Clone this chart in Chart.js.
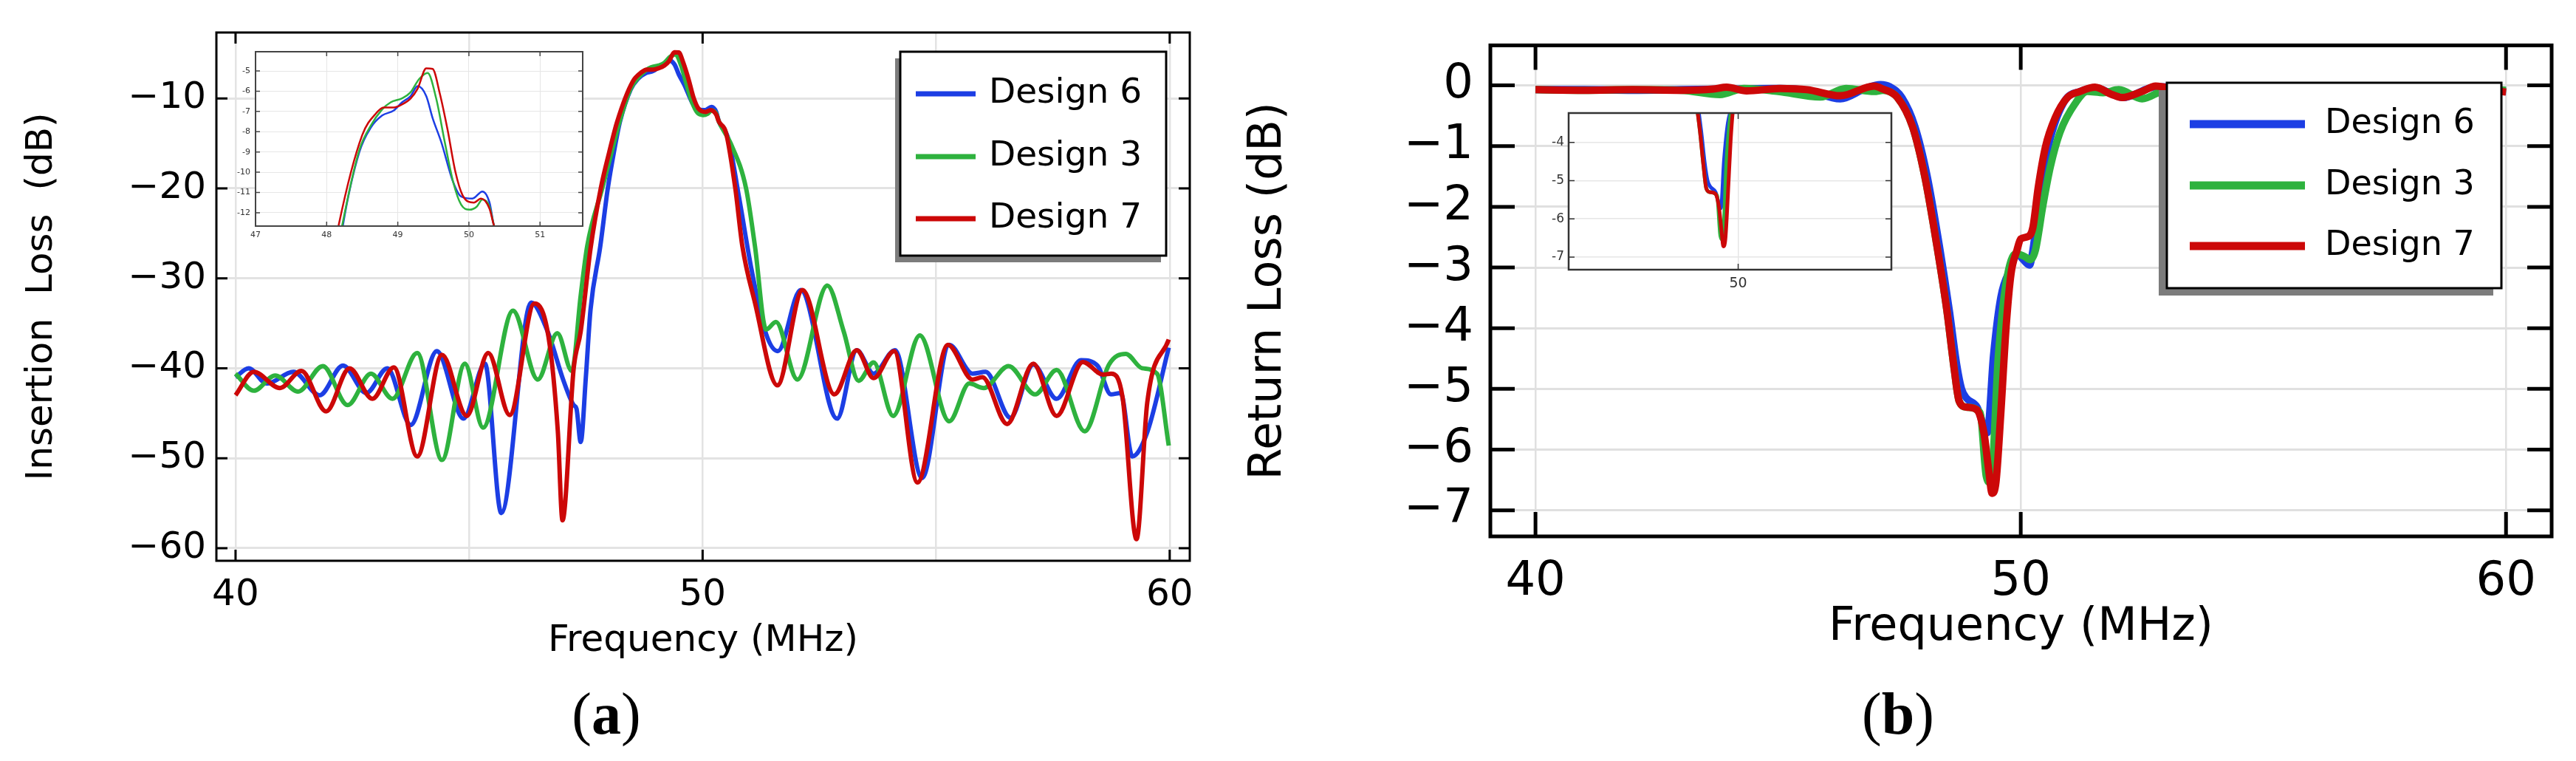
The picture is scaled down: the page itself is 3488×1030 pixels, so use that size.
<!DOCTYPE html>
<html>
<head>
<meta charset="utf-8">
<script src="https://cdn.jsdelivr.net/npm/chart.js@4.4.1/dist/chart.umd.min.js"></script>
<style>
  body { margin: 0; background: #fff; }
  #page { position: relative; width: 3488px; height: 1030px; background: #fff; overflow: hidden; }
  canvas { position: absolute; }
  .cap { position: absolute; font-family: 'Liberation Serif', serif; font-size: 80px; line-height: 1; transform: translate(-50%, -50%); color: #000; }
</style>
</head>
<body>
<div id="page">
  <canvas id="il" width="1700" height="930" style="left:0;top:0"></canvas>
  <canvas id="ilInset" width="500" height="290" style="left:300px;top:50px"></canvas>
  <canvas id="rl" width="1838" height="930" style="left:1650px;top:0"></canvas>
  <canvas id="rlInset" width="500" height="280" style="left:2080px;top:120px"></canvas>
  <div class="cap" style="left:821px;top:966px">(<b>a</b>)</div>
  <div class="cap" style="left:2570px;top:966px">(<b>b</b>)</div>
</div>
<script>
// colours of the three designs
const BLUE = 'rgb(28,62,228)';
const GREEN = 'rgb(46,178,62)';
const RED = 'rgb(204,8,8)';

const labels = ['Design 6', 'Design 3', 'Design 7'];

// ---- insertion loss
const ilFreq6 = [40.0, 40.28, 40.67, 41.24, 41.8, 42.3, 42.8, 43.25, 43.75, 44.31, 44.88, 45.34, 45.69, 46.33, 46.68, 47.03, 47.24, 47.3, 47.39, 47.5, 47.6, 47.81, 47.97, 48.1, 48.23, 48.46, 48.62, 48.78, 48.94, 49.06, 49.18, 49.28, 49.40, 49.49, 49.61, 49.78, 49.89, 50.05, 50.19, 50.29, 50.35, 50.55, 50.78, 51.05, 51.36, 51.61, 52.1, 52.88, 53.3, 53.66, 54.12, 54.7, 55.28, 55.78, 56.06, 56.59, 57.08, 57.58, 58.1, 58.46, 58.74, 58.95, 59.2, 59.52, 59.98];
const ilDesign6 = [-41, -40, -41.7, -40.4, -43, -39.7, -42.75, -40, -46.3, -38.1, -45.6, -39.5, -56.1, -32.7, -35.9, -41.5, -44.1, -44.5, -48.2, -41, -33.5, -26.4, -20, -16, -12.6, -9.0, -7.8, -7.2, -6.96, -6.55, -6.24, -5.75, -6.24, -7.33, -8.5, -10.5, -11.2, -11.3, -10.95, -11.5, -12.6, -14.5, -21, -29.1, -36.2, -38.1, -31.3, -45.6, -38, -40.6, -38, -52.2, -37.4, -40.6, -40.4, -45.5, -39.6, -43.4, -39.1, -39.75, -42.9, -42.75, -49.8, -47.1, -37.7];

const ilFreq3 = [40.0, 40.39, 40.85, 41.34, 41.87, 42.4, 42.9, 43.36, 43.89, 44.42, 44.91, 45.3, 45.94, 46.47, 46.89, 47.2, 47.39, 47.53, 47.85, 48.05, 48.22, 48.46, 48.62, 48.78, 48.9, 49.06, 49.18, 49.30, 49.42, 49.54, 49.66, 49.78, 49.89, 50.01, 50.11, 50.19, 50.29, 50.35, 50.6, 50.93, 51.12, 51.36, 51.57, 52.03, 52.67, 53.02, 53.34, 53.66, 54.08, 54.65, 55.28, 55.71, 56.02, 56.55, 57.12, 57.58, 58.18, 58.7, 59.06, 59.41, 59.73, 59.98];
const ilDesign3 = [-40.6, -42.5, -40.8, -42.6, -39.75, -44.1, -40.6, -43.4, -38.3, -50.2, -39.5, -46.6, -33.6, -41.25, -36.1, -40.3, -31.9, -26.4, -20, -16, -12.6, -8.9, -7.7, -6.9, -6.55, -6.35, -6.05, -5.4, -5.1, -6.36, -8.5, -10.5, -11.6, -11.85, -11.7, -11.35, -11.7, -12.6, -15, -20, -26.4, -35.7, -34.85, -41.25, -30.8, -35.9, -41.4, -39.35, -45.3, -36.35, -45.9, -41.7, -42.2, -39.75, -42.9, -40.2, -47.0, -39.6, -38.4, -40.0, -40.6, -48.6];

const ilFreq7 = [40.0, 40.39, 40.95, 41.41, 41.94, 42.44, 42.93, 43.39, 43.89, 44.42, 44.95, 45.41, 45.87, 46.4, 46.7, 46.9, 47.0, 47.24, 47.39, 47.6, 47.82, 48.0, 48.17, 48.5, 48.7, 48.8, 48.94, 49.06, 49.18, 49.28, 49.40, 49.49, 49.59, 49.70, 49.81, 49.91, 50.07, 50.17, 50.29, 50.35, 50.5, 50.7, 50.85, 51.12, 51.6, 52.14, 52.82, 53.3, 53.66, 54.1, 54.6, 55.25, 55.78, 55.99, 56.52, 57.08, 57.58, 58.14, 58.57, 58.75, 58.99, 59.29, 59.52, 59.98];
const ilDesign7 = [-43, -40.4, -42.2, -40.3, -44.8, -40, -43.4, -39.9, -49.8, -38.5, -45.3, -38.3, -45.2, -32.8, -36.5, -47, -56.9, -40, -35.9, -26.7, -20, -16, -12.6, -8.17, -7.07, -6.8, -6.8, -6.65, -6.36, -5.87, -4.87, -4.9, -6.1, -7.9, -9.98, -11.13, -11.5, -11.3, -11.8, -12.6, -13.8, -20, -26.4, -32.7, -41.9, -31.3, -42.9, -38, -41.1, -38.1, -52.7, -37.4, -41.25, -41, -46.2, -39.5, -45.3, -39.3, -40.7, -40.6, -43.2, -59, -43.8, -36.8];

// ---- return loss
const rlFreq6 = [40, 41, 42, 43, 44, 45, 45.6, 46.28, 46.8, 47.11, 47.3, 47.55, 47.82, 48.07, 48.32, 48.53, 48.68, 48.78, 48.88, 49.1, 49.31, 49.44, 49.59, 49.8, 49.92, 50.05, 50.18, 50.25, 50.41, 50.61, 50.91, 51.22, 51.55, 51.9, 52.1, 52.8, 54, 56, 58, 60];
const rlDesign6 = [-0.07, -0.07, -0.08, -0.07, -0.06, -0.05, -0.08, -0.22, -0.05, 0.015, -0.02, -0.2, -0.68, -1.49, -2.63, -3.72, -4.6, -5.0, -5.15, -5.3, -5.72, -4.44, -3.49, -3.0, -2.77, -2.87, -2.96, -2.72, -1.68, -0.87, -0.25, -0.1, -0.04, -0.15, -0.2, -0.02, -0.07, -0.07, -0.07, -0.1];

const rlFreq3 = [40, 41, 42, 43, 43.8, 44.3, 45.0, 45.87, 46.4, 46.98, 47.16, 47.46, 47.77, 48.02, 48.27, 48.48, 48.63, 48.73, 48.88, 49.16, 49.29, 49.38, 49.54, 49.7, 49.9, 50.08, 50.2, 50.3, 50.46, 50.61, 50.81, 51.12, 51.37, 51.7, 52.02, 52.5, 53, 54, 55, 56, 57, 58, 59, 60];
const rlDesign3 = [-0.07, -0.08, -0.07, -0.08, -0.15, -0.05, -0.1, -0.19, -0.05, -0.1, -0.08, -0.2, -0.68, -1.49, -2.63, -3.72, -4.68, -5.2, -5.3, -5.39, -6.44, -6.55, -4.44, -3.25, -2.77, -2.82, -2.87, -2.72, -1.96, -1.34, -0.77, -0.3, -0.1, -0.12, -0.07, -0.22, -0.08, -0.15, -0.05, -0.1, -0.05, -0.1, -0.05, -0.08];

const rlFreq7 = [40, 41, 42, 43, 43.66, 43.94, 44.35, 45.04, 45.6, 46.28, 46.98, 47.16, 47.46, 47.77, 48.02, 48.27, 48.48, 48.63, 48.73, 48.88, 49.09, 49.24, 49.34, 49.41, 49.49, 49.59, 49.7, 49.8, 49.92, 50.0, 50.15, 50.25, 50.36, 50.51, 50.71, 50.96, 51.22, 51.53, 51.88, 52.09, 52.5, 52.78, 53.33, 54, 55, 56, 57, 58, 59, 59.4, 60];
const rlDesign7 = [-0.07, -0.08, -0.07, -0.08, -0.06, -0.03, -0.09, -0.05, -0.07, -0.17, -0.01, -0.06, -0.2, -0.68, -1.49, -2.63, -3.72, -4.68, -5.2, -5.3, -5.34, -5.72, -6.34, -6.72, -6.53, -5.39, -3.96, -3.1, -2.72, -2.53, -2.49, -2.34, -1.68, -1.01, -0.53, -0.2, -0.1, -0.03, -0.15, -0.2, -0.1, -0.01, -0.07, -0.06, -0.08, -0.06, -0.08, -0.06, -0.08, -0.05, -0.11];

// ---- ticks
const ilXTicks = [40, 45, 50, 55, 60];
const ilXLabelled = [40, 50, 60];
const ilYTicks = [-60, -50, -40, -30, -20, -10];
const rlXTicks = [40, 50, 60];
const rlYTicks = [-7, -6, -5, -4, -3, -2, -1, 0];
const ilInsetXTicks = [47, 48, 49, 50, 51];
const ilInsetYTicks = [-12, -11, -10, -9, -8, -7, -6, -5];
const rlInsetXTicks = [50];
const rlInsetYTicks = [-7, -6, -5, -4];

function pts(xs, ys) {
    return xs.map((x, i) => ({x: x, y: ys[i]}));
}
function minus(v) {
    return v < 0 ? '\u2212' + Math.abs(v) : String(v);
}

// box round the plot area plus inward tick marks
const framePlugin = {
    id: 'frame',
    afterDatasetsDraw(chart, args, o) {
        const ctx = chart.ctx, a = chart.chartArea, sx = chart.scales.x, sy = chart.scales.y;
        ctx.save();
        ctx.strokeStyle = o.color;
        ctx.lineWidth = o.tickWidth;
        ctx.beginPath();
        o.xMarks.forEach(v => {
            const px = sx.getPixelForValue(v);
            ctx.moveTo(px, a.bottom); ctx.lineTo(px, a.bottom - o.tickLen);
            ctx.moveTo(px, a.top); ctx.lineTo(px, a.top + o.tickLen);
        });
        o.yMarks.forEach(v => {
            const py = sy.getPixelForValue(v);
            ctx.moveTo(a.left, py); ctx.lineTo(a.left + o.tickLen, py);
            ctx.moveTo(a.right, py); ctx.lineTo(a.right - o.tickLen, py);
        });
        ctx.stroke();
        ctx.lineWidth = o.width;
        ctx.strokeRect(a.left, a.top, a.right - a.left, a.bottom - a.top);
        ctx.restore();
    }
};

const whiteArea = {
    id: 'whiteArea',
    beforeDraw(chart) {
        const a = chart.chartArea;
        chart.ctx.save();
        chart.ctx.fillStyle = '#fff';
        chart.ctx.fillRect(a.left, a.top, a.right - a.left, a.bottom - a.top);
        chart.ctx.restore();
    }
};

// legend box with drop shadow, inside the plot
const boxLegend = {
    id: 'boxLegend',
    afterDraw(chart, args, o) {
        const ctx = chart.ctx;
        const x = o.box[0], y = o.box[1], w = o.box[2], h = o.box[3];
        ctx.save();
        ctx.fillStyle = '#7c7c7c';
        ctx.fillRect(x + o.shadow[0], y + o.shadow[1], w, h);
        ctx.fillStyle = '#fff';
        ctx.fillRect(x, y, w, h);
        ctx.strokeStyle = '#000';
        ctx.lineWidth = o.borderWidth;
        ctx.strokeRect(x, y, w, h);
        ctx.font = o.font;
        ctx.textBaseline = 'middle';
        chart.data.datasets.forEach((ds, i) => {
            const ry = o.rows[i];
            ctx.strokeStyle = ds.borderColor;
            ctx.lineWidth = o.lineWidth;
            ctx.beginPath();
            ctx.moveTo(o.line[0], ry);
            ctx.lineTo(o.line[1], ry);
            ctx.stroke();
            ctx.fillStyle = '#000';
            ctx.fillText(ds.label, o.textX, ry);
        });
        ctx.restore();
    }
};

function sets(f6, d6, f3, d3, f7, d7, width) {
    return [
        {label: labels[0], data: pts(f6, d6), borderColor: BLUE, borderWidth: width, order: 2},
        {label: labels[1], data: pts(f3, d3), borderColor: GREEN, borderWidth: width, order: 1},
        {label: labels[2], data: pts(f7, d7), borderColor: RED, borderWidth: width, order: 0}
    ];
}

function axis(min, max, ticks, opt) {
    return {
        type: 'linear', min: min, max: max,
        afterBuildTicks: s => { s.ticks = ticks.map(v => ({value: v})); },
        afterFit: s => { if (opt.height !== undefined) s.height = opt.height; if (opt.width !== undefined) s.width = opt.width; },
        ticks: {
            autoSkip: false, maxRotation: 0, color: opt.tickColor || '#000',
            padding: opt.pad,
            font: {family: 'DejaVu Sans', size: opt.size},
            callback: opt.label
        },
        grid: {color: opt.gridColor, lineWidth: opt.gridWidth, drawTicks: false},
        border: {display: false},
        title: opt.title ? {
            display: true, text: opt.title, color: '#000',
            font: {family: 'DejaVu Sans', size: opt.titleSize},
            padding: opt.titlePad
        } : {display: false}
    };
}

const base = {
    responsive: false, animation: false,
    elements: {point: {radius: 0}, line: {cubicInterpolationMode: 'monotone', fill: false}},
    events: []
};

// ---------- (a) insertion loss
new Chart(document.getElementById('il'), {
    type: 'line',
    data: {datasets: sets(ilFreq6, ilDesign6, ilFreq3, ilDesign3, ilFreq7, ilDesign7, 6)},
    options: Object.assign({}, base, {
        layout: {padding: {left: 0, top: 37, right: 89, bottom: 0}},
        plugins: {
            legend: {display: false}, tooltip: {enabled: false},
            frame: {color: '#000', width: 3, tickWidth: 3, tickLen: 15, xMarks: ilXLabelled, yMarks: ilYTicks},
            boxLegend: {box: [1219, 70, 360, 276], shadow: [-7, 9], borderWidth: 3, font: '47px "DejaVu Sans"',
                rows: [127, 212, 296], line: [1240, 1321], lineWidth: 7, textX: 1339}
        },
        scales: {
            x: axis(39.59, 60.43, ilXTicks, {height: 171, pad: 17, size: 50, gridColor: '#e3e3e3', gridWidth: 2.5,
                label: v => ilXLabelled.includes(v) ? String(v) : '',
                title: 'Frequency (MHz)', titleSize: 50, titlePad: {top: 0, bottom: 32}}),
            y: axis(-61.4, -2.68, ilYTicks, {width: 293, pad: 14, size: 50, gridColor: '#e3e3e3', gridWidth: 3,
                label: v => minus(v),
                title: 'Insertion  Loss  (dB)', titleSize: 50, titlePad: {top: 27, bottom: 0}})
        }
    }),
    plugins: [framePlugin, boxLegend]
});

new Chart(document.getElementById('ilInset'), {
    type: 'line',
    data: {datasets: sets(ilFreq6, ilDesign6, ilFreq3, ilDesign3, ilFreq7, ilDesign7, 2.5).map(d => Object.assign(d, {clip: 0}))},
    options: Object.assign({}, base, {
        layout: {padding: {left: 0, top: 20, right: 11, bottom: 0}},
        plugins: {
            legend: {display: false}, tooltip: {enabled: false},
            frame: {color: '#444', width: 2, tickWidth: 1.5, tickLen: 6, xMarks: ilInsetXTicks, yMarks: ilInsetYTicks}
        },
        scales: {
            x: axis(47, 51.6, ilInsetXTicks, {height: 34, pad: 6, size: 11, tickColor: '#333', gridColor: '#e6e6e6', gridWidth: 1,
                label: v => String(v)}),
            y: axis(-12.66, -4.05, ilInsetYTicks, {width: 46, pad: 7, size: 11, tickColor: '#333', gridColor: '#e6e6e6', gridWidth: 1,
                label: v => String(v)})
        }
    }),
    plugins: [whiteArea, framePlugin]
});

// ---------- (b) return loss
new Chart(document.getElementById('rl'), {
    type: 'line',
    data: {datasets: sets(rlFreq6, rlDesign6, rlFreq3, rlDesign3, rlFreq7, rlDesign7, 10)},
    options: Object.assign({}, base, {
        layout: {padding: {left: 0, top: 30, right: 33, bottom: 0}},
        plugins: {
            legend: {display: false}, tooltip: {enabled: false},
            frame: {color: '#000', width: 5, tickWidth: 5, tickLen: 33, xMarks: rlXTicks, yMarks: rlYTicks},
            boxLegend: {box: [1284, 112, 453, 278], shadow: [-11, 10], borderWidth: 3, font: '46px "DejaVu Sans"',
                rows: [168, 251, 333], line: [1315, 1471], lineWidth: 11, textX: 1498}
        },
        scales: {
            x: axis(39.07, 60.94, rlXTicks, {height: 204, pad: 24, size: 64, gridColor: '#e0e0e0', gridWidth: 2.5,
                label: v => String(v),
                title: 'Frequency (MHz)', titleSize: 62, titlePad: {top: 0, bottom: 43}}),
            y: axis(-7.43, 0.66, rlYTicks, {width: 368, pad: 23, size: 64, gridColor: '#e0e0e0', gridWidth: 3,
                label: v => minus(v),
                title: 'Return Loss (dB)', titleSize: 62, titlePad: {top: 31, bottom: 0}})
        }
    }),
    plugins: [framePlugin, boxLegend]
});

new Chart(document.getElementById('rlInset'), {
    type: 'line',
    data: {datasets: sets(rlFreq6, rlDesign6, rlFreq3, rlDesign3, rlFreq7, rlDesign7, 5).map(d => Object.assign(d, {clip: 0}))},
    options: Object.assign({}, base, {
        layout: {padding: {left: 0, top: 33, right: 19, bottom: 0}},
        plugins: {
            legend: {display: false}, tooltip: {enabled: false},
            frame: {color: '#333', width: 2.5, tickWidth: 1.5, tickLen: 8, xMarks: rlInsetXTicks, yMarks: rlInsetYTicks}
        },
        scales: {
            x: axis(43.25, 56.1, rlInsetXTicks, {height: 35, pad: 8, size: 19, tickColor: '#333', gridColor: '#e6e6e6', gridWidth: 1.5,
                label: v => String(v)}),
            y: axis(-7.33, -3.23, rlInsetYTicks, {width: 44, pad: 6, size: 17, tickColor: '#333', gridColor: '#e6e6e6', gridWidth: 1.5,
                label: v => String(v)})
        }
    }),
    plugins: [whiteArea, framePlugin]
});
</script>
</body>
</html>
